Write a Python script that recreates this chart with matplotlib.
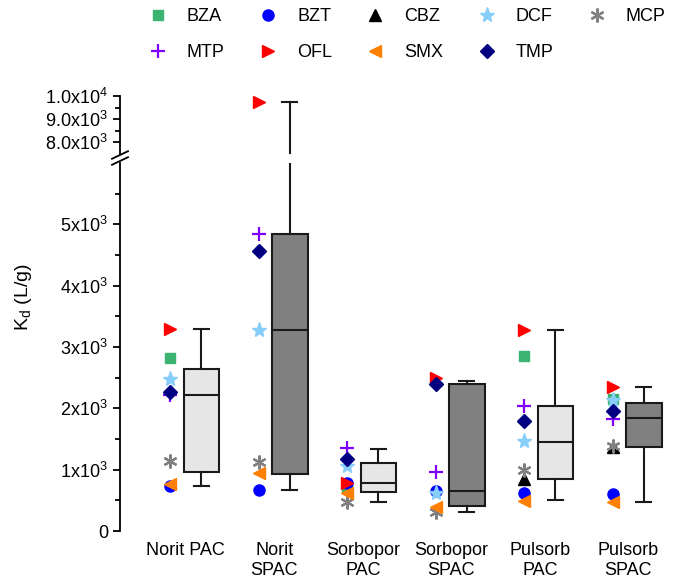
# -*- coding: utf-8 -*-
import numpy as np
import matplotlib
matplotlib.use('Agg')
import matplotlib.pyplot as plt
from matplotlib.lines import Line2D

plt.rcParams['font.family'] = ['Liberation Sans', 'DejaVu Sans']
plt.rcParams['mathtext.fontset'] = 'custom'
plt.rcParams['mathtext.rm'] = 'Liberation Sans'
plt.rcParams['mathtext.it'] = 'Liberation Sans:italic'
plt.rcParams['font.size'] = 13

# sorbents
groups = ['Norit PAC', 'Norit\nSPAC', 'Sorbopor\nPAC', 'Sorbopor\nSPAC',
          'Pulsorb\nPAC', 'Pulsorb\nSPAC']

# Kd (L/g) per compound, one value per sorbent
nan = np.nan
BZA = [2817, nan, 696, nan, 2860, 2150]
BZT = [734, 669, 787, 658, 625, 604]
CBZ = [nan, nan, nan, nan, 848, 1375]
DCF = [2475, 3279, 1065, 625, 1463, 2130]
MCP = [1147, 1120, 468, 305, 995, 1392]
MTP = [2218, 4840, 1359, 957, 2039, 1827]
OFL = [3290, 9720, 788, 2491, 3279, 2354]
SMX = [767, 941, 615, 397, 495, 478]
TMP = [2262, 4563, 1180, 2398, 1789, 1958]

# box statistics
whis_lo = [734, 669, 468, 310, 501, 473]
q1 = [958, 935, 641, 402, 848, 1370]
med = [2224, 3279, 778, 652, 1457, 1838]
q3 = [2638, 4840, 1114, 2393, 2039, 2083]
whis_hi = [3290, 9720, 1343, 2452, 3279, 2354]

compounds = [
    ('BZA', BZA, dict(marker='s', color='#3cb371', ms=7)),
    ('BZT', BZT, dict(marker='o', color='#0000ff', ms=8)),
    ('CBZ', CBZ, dict(marker='^', color='black', ms=8)),
    ('DCF', DCF, dict(marker='*', color='#87cefa', ms=11)),
    ('MCP', MCP, dict(marker=(6, 2, 0), color='#808080', ms=10, mew=1.6)),
    ('MTP', MTP, dict(marker='+', color='#8000ff', ms=10, mew=1.6)),
    ('OFL', OFL, dict(marker='>', color='#ff0000', ms=9)),
    ('SMX', SMX, dict(marker='<', color='#ff8000', ms=9)),
    ('TMP', TMP, dict(marker='D', color='#000080', ms=7.5)),
]

x = np.arange(len(groups))
box_x = x + 0.177
pts_x = x - 0.177
box_colors = ['#e6e6e6', '#808080'] * 3

stats = []
for i in range(len(groups)):
    stats.append(dict(whislo=whis_lo[i], q1=q1[i], med=med[i], q3=q3[i],
                      whishi=whis_hi[i], fliers=[]))

W, H = 675, 581
fig = plt.figure(figsize=(W / 100, H / 100), dpi=100)
ax = fig.add_axes([120 / W, (H - 531) / H, (W - 120) / W, (531 - 163) / H])
ax_top = fig.add_axes([120 / W, (H - 154) / H, (W - 120) / W, (154 - 96) / H])

for a in (ax, ax_top):
    bp = a.bxp(stats, positions=box_x, widths=0.4, capwidths=0.17,
               patch_artist=True, showfliers=False,
               boxprops=dict(linewidth=1.5, edgecolor='#1a1a1a'),
               whiskerprops=dict(linewidth=1.5, color='#1a1a1a'),
               capprops=dict(linewidth=1.5, color='#1a1a1a'),
               medianprops=dict(linewidth=1.5, color='#1a1a1a'))
    for patch, c in zip(bp['boxes'], box_colors):
        patch.set_facecolor(c)
    for name, vals, kw in compounds:
        a.plot(pts_x, vals, linestyle='none', label=name, **kw)
    a.set_xlim(-0.743, 5.528)
    for s in ('top', 'right', 'bottom'):
        a.spines[s].set_visible(False)
    a.spines['left'].set_linewidth(1.3)
    a.tick_params(axis='y', which='major', length=5, width=1.3, direction='out')
    a.tick_params(axis='y', which='minor', length=3.5, width=1.3, direction='out')

ax.set_ylim(0, 6000)
ax.set_yticks([0, 1000, 2000, 3000, 4000, 5000])
ax.set_yticklabels(['0'] + ['%dx10$^{3}$' % k for k in range(1, 6)])
ax.set_yticks(np.arange(500, 6000, 1000), minor=True)
ax.set_xticks(x)
ax.set_xticklabels(groups)
ax.tick_params(axis='x', length=0, pad=8)

ax_top.set_ylim(7500, 10000)
ax_top.set_yticks([8000, 9000, 10000])
ax_top.set_yticklabels(['8.0x10$^{3}$', '9.0x10$^{3}$', '1.0x10$^{4}$'])
ax_top.set_yticks([8500, 9500], minor=True)
ax_top.set_xticks([])

# axis break marks
for yc in (161, 155):
    fig.add_artist(Line2D([112 / W, 128 / W],
                          [(H - yc - 3.8) / H, (H - yc + 3.8) / H],
                          color='black', linewidth=1.3))

fig.text(24 / W, (H - 297) / H, 'K$_{\\mathrm{d}}$ (L/g)', rotation=90,
         ha='center', va='center', fontsize=14)

handles, labels = ax.get_legend_handles_labels()
order = [0, 5, 1, 6, 2, 7, 3, 8, 4]
fig.legend([handles[i] for i in order], [labels[i] for i in order],
           ncol=5, loc='upper left', bbox_to_anchor=(149 / W, 1 - 8 / H),
           frameon=False, borderpad=0, borderaxespad=0, handlelength=1.0,
           handletextpad=1.1, columnspacing=1.9, labelspacing=1.05)

fig.savefig('out.png', dpi=100)
